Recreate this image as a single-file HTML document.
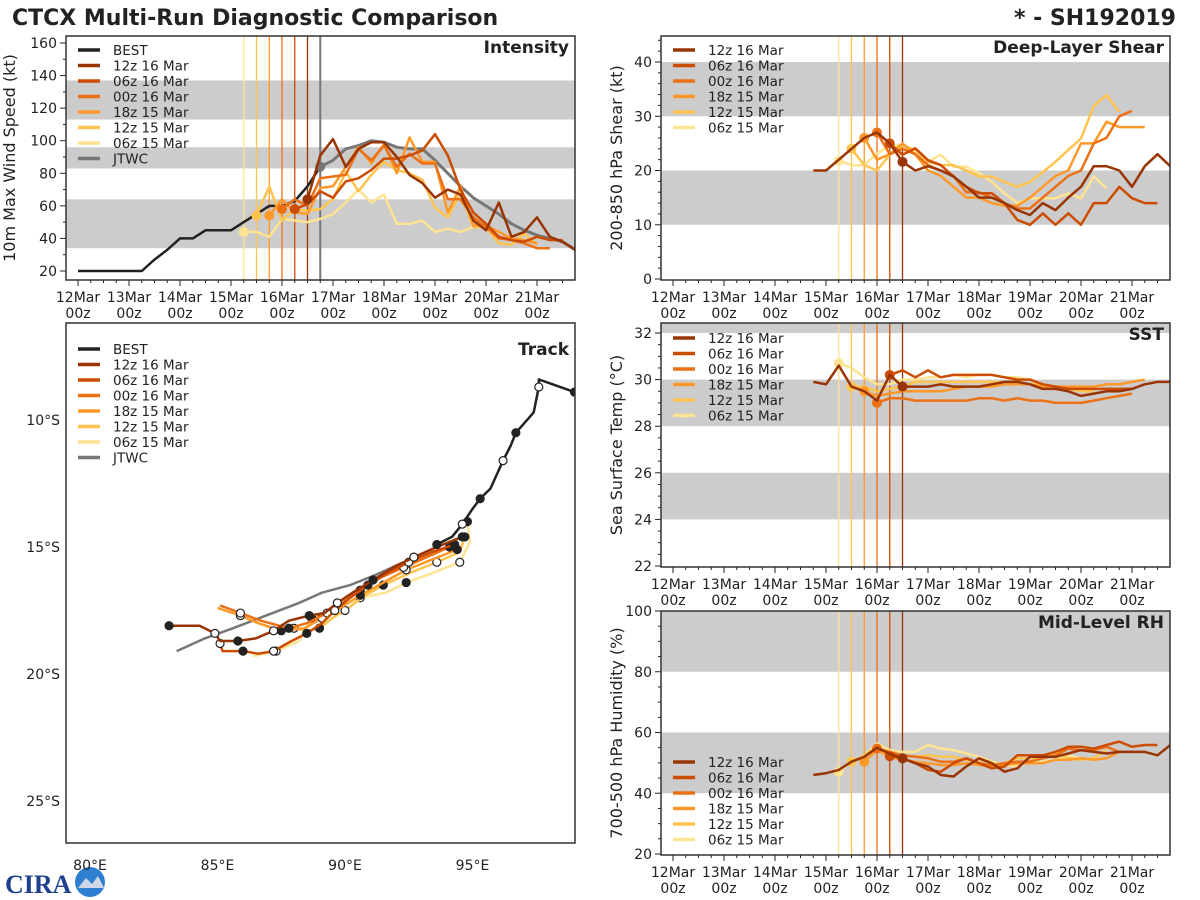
<!DOCTYPE html>
<html><head><meta charset="utf-8">
<style>
html,body{margin:0;padding:0;background:#fff;}
svg{display:block;font-family:"DejaVu Sans","Liberation Sans",sans-serif;}
</style></head>
<body>
<svg id="chart" width="1200" height="900" viewBox="0 0 1200 900" xmlns="http://www.w3.org/2000/svg">
<text x="12" y="25" font-size="22" font-weight="bold" fill="#222">CTCX Multi-Run Diagnostic Comparison</text>
<text x="1176" y="25" font-size="22" font-weight="bold" fill="#222" text-anchor="end">* - SH192019</text>
<g>
<text x="5" y="893" font-size="26" font-weight="bold" fill="#1f3f8f" font-family="Liberation Serif, serif">CIRA</text>
<circle cx="90" cy="882" r="15" fill="#2f7fd0"/>
<path d="M78 888 L86 878 L92 884 L98 876 L104 888 Z" fill="#cfd8e8"/>
</g>
<g id="root"></g>
</svg>
<script>
// ---------- data ----------
const runNames = ["12z 16 Mar","06z 16 Mar","00z 16 Mar","18z 15 Mar","12z 15 Mar","06z 15 Mar"];
const runColors = ["#993404","#cc4c02","#ec7014","#fe9929","#fec44f","#fee391"];
const runStart = [4.5,4.25,4.0,3.75,3.5,3.25]; // days since 12 Mar 00z
const dayLabels = ["12Mar","13Mar","14Mar","15Mar","16Mar","17Mar","18Mar","19Mar","20Mar","21Mar"];

// Intensity (kt)
const bestStart = 0;
const bestInt = [20,20,20,20,20,20,27,33,40,40,45,45,45,50,55,60,60,63,72,84];
const jtwcStart = 4.75;
const jtwcInt = [84,88,95,97,100,99,96,95,95,88,80,72,65,60,55,49,45,42,40,38,33];
const int12z16 = [64,91,101,84,95,99,99,90,79,74,65,70,67,51,45,62,41,44,53,41,38,33];
const int06z16 = [58,61,69,65,75,77,82,89,89,91,94,104,91,70,56,49,41,39,38,41,39,39];
const int00z16 = [58,64,60,77,78,79,95,88,97,84,92,86,86,64,64,53,47,40,39,37,34,34];
const int18z15 = [54,64,56,55,71,72,84,96,86,98,80,102,87,87,56,72,48,48,44,40,39,37];
const int12z15 = [54,72,51,58,57,58,64,81,69,79,87,82,80,76,59,53,68,47,47,37,36,43,36];
const int06z15 = [44,44,41,52,51,50,52,55,62,70,62,67,49,49,51,44,46,44,47,47,43];

// Shear (kt); 12z16 includes history from day 2.75
const shr12z16 = [20,20,22,24,26,27,25,21.6,20,20.8,20,18.9,17,15,15,14,12.7,11.8,14,12.7,15,17,20.8,20.8,20,17,20.8,23,20.8];
const shr06z16 = [25,22.9,24.1,21.9,21,18.9,17,15.8,15.8,14,10.9,10,12.1,10,12.1,10,14,14,17,14.9,14,14];
const shr00z16 = [27,23,24,23,21,20,19,16,16,15,14,13,13,15,17,19,20,25,26,30,31];
const shr18z15 = [26,22,23,25,23,20,19,17,15,15,14,13.5,13.5,15,17,19,20,25,25,29,28,28,28];
const shr12z15 = [24,21,20,22.9,24.6,23.8,21.6,21,21,20,18.9,18.9,17.9,17,17.9,19.7,21.6,23.8,25.9,31.9,33.9,30.8];
const shr06z15 = [21.8,21,21,23.1,24.6,24.6,23.1,21.6,22.9,20.7,20.7,19.5,17.9,15.8,14,14.9,14.9,14.9,15.8,14.9,18.9,16.7];

// SST (C)
const sst12z16 = [29.9,29.8,30.6,29.7,29.5,29.1,30.2,29.7,29.7,29.7,29.8,29.7,29.7,29.7,29.8,29.9,29.9,29.8,29.6,29.6,29.5,29.3,29.4,29.5,29.5,29.6,29.8,29.9,29.9];
const sst06z16 = [30.2,30.4,30.1,30.4,30.1,30.2,30.2,30.2,30.2,30.1,30.0,30.0,29.8,29.7,29.6,29.6,29.6,29.6,29.6,29.6];
const sst00z16 = [29.0,29.2,29.2,29.1,29.1,29.1,29.1,29.1,29.2,29.2,29.1,29.2,29.1,29.1,29.0,29.0,29.0,29.1,29.2,29.3,29.4];
const sst18z15 = [29.5,29.3,29.4,29.5,29.5,29.5,29.5,29.6,29.7,29.7,29.7,29.8,29.8,29.8,29.7,29.7,29.7,29.7,29.7,29.8,29.8,29.9,30.0];
const sst12z15 = [29.7,29.7,29.5,29.6,29.7,29.9,29.9,29.9,29.9,29.9,29.9,29.9,29.9,29.8,29.8,29.8,29.7,29.6,29.5,29.5];
const sst06z15 = [30.7,30.5,30.1,29.8,29.8,30.0,30.0,30.1,30.1,30.2,30.1,30.2,30.2,30.1,30.1,30.0,29.8,29.6,29.7];

// Mid-level RH (%)
const rh12z16 = [46,46.6,47.7,50.4,52,55,53,51.5,49.9,48.8,46,45.5,48.8,51.5,49.9,47.1,48.2,52,52,52,53.1,54.2,53.6,53.1,53.6,53.6,53.6,52.5,55.9];
const rh06z16 = [52.2,51.5,49.9,47.7,47.1,49.9,51.5,49.9,48.2,48.8,52.5,52.5,52.5,53.6,55.3,55.3,54.7,55.9,57,55.3,55.9,55.9];
const rh00z16 = [54.7,53.6,52.5,52,51.5,50.4,50.4,51.5,49.9,49.3,49.9,50.4,50.4,51.5,52.5,54.7,54.2,54.2,55.3,53.6,53.6,53.6];
const rh18z15 = [50.4,54.2,52,51,50.4,49.9,49.3,49.3,49.9,49.3,48.8,49.3,49.9,49.9,49.9,51,51,51.5,51,51.5,53.6];
const rh12z15 = [50.4,52.5,55.3,53.1,52.5,52,52.5,52,52,51,50.4,48.8,49.9,51.5,51.5,51.5,53.6,51.5,51,51.5,54.2];
const rh06z15 = [47.1,50.4,52.5,56.4,54.2,53.6,53.6,55.9,54.7,54.2,53.1,52,50.4,49.3,48.8,50.4,50.4,51,52.5,51.5];

// Track [lon E, lat S]
const trkBest = [[99.0,8.9],[97.6,8.4],[97.6,8.7],[97.4,9.7],[96.7,10.5],[96.5,11.0],[96.2,11.6],[95.7,12.7],[95.3,13.1],[95.0,13.5],[94.6,14.1],[94.2,14.6],[93.6,14.9]];
const trkJtwc = [[92.3,15.6],[91.2,16.1],[90.2,16.5],[89.1,16.8],[88.2,17.2],[86.9,17.7],[85.6,18.2],[84.5,18.6],[83.4,19.1]];
const trk12z16 = [[94.6,14.6],[93.6,15.0],[92.7,15.4],[91.9,15.8],[91.1,16.3],[90.3,16.8],[89.7,17.2],[89.2,17.6],[88.6,17.7],[87.8,17.9],[87.2,18.3],[86.5,18.6],[85.8,18.7],[85.1,18.7],[84.9,18.4],[84.3,18.1],[83.1,18.1]];
const trk06z16 = [[94.3,14.9],[93.4,15.2],[92.5,15.6],[91.7,16.0],[90.9,16.5],[90.2,17.0],[89.6,17.5],[89.1,18.0],[88.5,18.4],[87.9,18.7],[87.2,19.1],[86.6,19.2],[86.0,19.1],[85.2,19.1],[85.1,18.8]];
const trk00z16 = [[94.1,15.0],[93.2,15.4],[92.3,15.8],[91.4,16.2],[90.6,16.7],[89.9,17.2],[89.3,17.6],[88.5,18.0],[87.8,18.2],[86.7,17.9],[85.9,17.6],[85.1,17.3]];
const trk18z15 = [[94.4,15.1],[93.4,15.5],[92.4,15.9],[91.5,16.4],[90.6,16.9],[89.8,17.4],[89.1,17.8],[88.4,18.2],[87.5,18.3],[86.6,18.0],[85.9,17.7],[85.0,17.4]];
const trk12z15 = [[94.7,14.6],[94.5,15.2],[93.6,15.6],[92.6,16.0],[91.5,16.5],[90.8,16.9],[90.0,17.5],[89.5,17.8],[89.0,18.2],[88.5,18.3],[88.0,18.2]];
const trk06z15 = [[94.8,14.0],[94.9,14.8],[94.5,15.6],[93.5,16.0],[92.4,16.4],[91.6,16.8],[90.6,17.0],[89.7,17.4],[88.7,17.8],[88.2,18.7],[87.3,19.1],[86.4,19.3]];

// ---------- helpers ----------
const NS="http://www.w3.org/2000/svg";
const root=document.getElementById('root');
function mk(tag,attrs,parent){const e=document.createElementNS(NS,tag);for(const k in attrs)e.setAttribute(k,attrs[k]);(parent||root).appendChild(e);return e;}
function linMap(v0,p0,v1,p1){return v=>p0+(v-v0)*(p1-p0)/(v1-v0);}

const panels = {
 intensity:{x0:66,x1:575,y0:36,y1:280,xd:linMap(0,78,1,129),yv:linMap(20,271,160,43),ymin:20,ymax:160,major:20,minor:10,bands:[[34,64],[83,96],[113,137]],title:"Intensity",ylab:"10m Max Wind Speed (kt)",ylx:15},
 shear:{x0:661,x1:1170,y0:36,y1:280,xd:linMap(0,673,1,724),yv:linMap(0,279,40,62),ymin:0,ymax:44,major:10,minor:2,bands:[[10,20],[30,40]],title:"Deep-Layer Shear",ylab:"200-850 hPa Shear (kt)",ylx:622},
 sst:{x0:661,x1:1170,y0:323,y1:567,xd:linMap(0,673,1,724),yv:linMap(22,566,32,333),ymin:22,ymax:32.4,major:2,minor:0.5,bands:[[24,26],[28,30],[32,33]],title:"SST",ylab:"Sea Surface Temp (°C)",ylx:622},
 rh:{x0:661,x1:1170,y0:611,y1:855,xd:linMap(0,673,1,724),yv:linMap(20,854,100,611),ymin:20,ymax:100,major:20,minor:5,bands:[[40,60],[80,100]],title:"Mid-Level RH",ylab:"700-500 hPa Humidity (%)",ylx:622}
};

function drawPanel(key,p){
  const g=mk('g',{});
  
  
  const cp=mk('clipPath',{id:'clip-'+key},g);
  mk('rect',{x:p.x0,y:p.y0,width:p.x1-p.x0,height:p.y1-p.y0},cp);
  p.g=g;
  p.plot=mk('g',{'clip-path':'url(#clip-'+key+')'},g);
  p.bands.forEach((b,i)=>{
    const r=mk('rect',{x:p.x0,y:p.yv(b[1]),width:p.x1-p.x0,height:p.yv(b[0])-p.yv(b[1]),fill:'#cccccc'},p.plot);
    
    
  });
  for(let v=p.ymin; v<=p.ymax+1e-6; v+=p.minor){
    const y=p.yv(v); if(y<p.y0-0.5||y>p.y1+0.5) continue;
    const isMaj=Math.abs(v/p.major-Math.round(v/p.major))<1e-6;
    mk('line',{x1:p.x0,x2:p.x0-(isMaj?6:3),y1:y,y2:y,stroke:'#222','stroke-width':1},g);
    if(isMaj){const t=mk('text',{x:p.x0-9,y:y+5,'font-size':14,'text-anchor':'end',fill:'#222'},g);t.textContent=v;
      
      }
  }
  for(let q=0;q<=39;q++){const d=q/4;const x=p.xd(d); if(x>p.x1) break;
    const maj=q%4===0;
    mk('line',{x1:x,x2:x,y1:p.y1,y2:p.y1+(maj?6:3),stroke:'#222','stroke-width':1},g);
    if(maj){const t=mk('text',{x:x,y:p.y1+22,'font-size':14,'text-anchor':'middle',fill:'#222'},g);t.textContent=dayLabels[q/4];
      
      
      const t2=mk('text',{x:x,y:p.y1+38,'font-size':14,'text-anchor':'middle',fill:'#222'},g);t2.textContent='00z';
      
      }
  }
  const yl=mk('text',{x:p.ylx,y:(p.y0+p.y1)/2,'font-size':16,'text-anchor':'middle',fill:'#222',transform:'rotate(-90 '+p.ylx+' '+(p.y0+p.y1)/2+')'},g);
  yl.textContent=p.ylab;
  
  
  runStart.forEach((d,i)=>{
    const l=mk('line',{x1:p.xd(d),x2:p.xd(d),y1:p.y0,y2:p.y1,stroke:runColors[i],'stroke-width':1.3},p.plot);
    
    
  });
}
function series(p,start,vals,color,w,name,dot){
  const pts=vals.map((v,i)=>p.xd(start+i*0.25).toFixed(1)+','+p.yv(v).toFixed(1)).join(' ');
  const l=mk('polyline',{points:pts,fill:'none',stroke:color,'stroke-width':w,'stroke-linejoin':'round'},p.plot);
  
  
  if(dot){const c=mk('circle',{cx:p.xd(dot[0]),cy:p.yv(dot[1]),r:5,fill:color},p.plot);
    
    }
}
function frame(p){const r=mk('rect',{x:p.x0,y:p.y0,width:p.x1-p.x0,height:p.y1-p.y0,fill:'none',stroke:'#333','stroke-width':1.5},p.g);
  
  
  const t=mk('text',{x:p.x1-6,y:p.y0+17,'font-size':17,'font-weight':'bold','text-anchor':'end',fill:'#222'},p.g);t.textContent=p.title;
  
  }
function legend(p,x,y,entries){
  entries.forEach((e,i)=>{const yy=y+i*15.5;
    const l=mk('line',{x1:x,x2:x+22,y1:yy,y2:yy,stroke:e[1],'stroke-width':3.5},p.g);
    
    
    const t=mk('text',{x:x+35,y:yy+5,'font-size':13.5,fill:'#222'},p.g);t.textContent=e[0];
    
    });
}

const PI=panels.intensity; drawPanel('intensity',PI);
const runInt=[int12z16,int06z16,int00z16,int18z15,int12z15,int06z15];
mk('line',{x1:PI.xd(4.75),x2:PI.xd(4.75),y1:PI.y0,y2:PI.y1,stroke:'#777','stroke-width':2},PI.plot);
series(PI,bestStart,bestInt,'#222',2.5,'best-intensity-line');
series(PI,jtwcStart,jtwcInt,'#777',3,'jtwc-intensity-line',[jtwcStart,jtwcInt[0]]);
for(let i=5;i>=0;i--) series(PI,runStart[i],runInt[i],runColors[i],2.5,'intensity-run-'+i,[runStart[i],runInt[i][0]]);
frame(PI);
legend(PI,78,50,[["BEST","#222"]].concat(runNames.map((n,i)=>[n,runColors[i]])).concat([["JTWC","#777"]]));

const PS=panels.shear; drawPanel('shear',PS);
const runShr=[shr12z16,shr06z16,shr00z16,shr18z15,shr12z15,shr06z15];
const shrStart=[2.75,4.25,4.0,3.75,3.5,3.25];
for(let i=5;i>=0;i--) series(PS,shrStart[i],runShr[i],runColors[i],2.5,'shear-run-'+i,[runStart[i],runShr[i][Math.round((runStart[i]-shrStart[i])*4)]]);
frame(PS);
legend(PS,673,50,runNames.map((n,i)=>[n,runColors[i]]));

const PT=panels.sst; drawPanel('sst',PT);
const runSst=[sst12z16,sst06z16,sst00z16,sst18z15,sst12z15,sst06z15];
for(let i=5;i>=0;i--) series(PT,shrStart[i],runSst[i],runColors[i],2.5,'sst-run-'+i,[runStart[i],runSst[i][Math.round((runStart[i]-shrStart[i])*4)]]);
frame(PT);
legend(PT,673,338,runNames.map((n,i)=>[n,runColors[i]]));

const PR=panels.rh; drawPanel('rh',PR);
const runRh=[rh12z16,rh06z16,rh00z16,rh18z15,rh12z15,rh06z15];
for(let i=5;i>=0;i--) series(PR,shrStart[i],runRh[i],runColors[i],2.5,'rh-run-'+i,[runStart[i],runRh[i][Math.round((runStart[i]-shrStart[i])*4)]]);
frame(PR);
legend(PR,673,762,runNames.map((n,i)=>[n,runColors[i]]));

const TK={x0:66,x1:575,y0:323,y1:843};
const lonX=linMap(80,90,85,217.5), latY=linMap(10,420,15,547);
const tg=mk('g',{});


const tcp=mk('clipPath',{id:'clip-track'},tg);
mk('rect',{x:TK.x0,y:TK.y0,width:TK.x1-TK.x0,height:TK.y1-TK.y0},tcp);
const tp=mk('g',{'clip-path':'url(#clip-track)'},tg);
[10,15,20,25].forEach(la=>{const t=mk('text',{x:60,y:latY(la)+5,'font-size':14,'text-anchor':'end',fill:'#222'},tg);t.textContent=la+'°S';
  
  });
[80,85,90,95].forEach(lo=>{const t=mk('text',{x:lonX(lo),y:870,'font-size':14,'text-anchor':'middle',fill:'#222'},tg);t.textContent=lo+'°E';
  
  });
function track(pts,color,w,name,markers){
  const s=pts.map(p=>lonX(p[0]).toFixed(1)+','+latY(p[1]).toFixed(1)).join(' ');
  const l=mk('polyline',{points:s,fill:'none',stroke:color,'stroke-width':w,'stroke-linejoin':'round'},tp);
  
  
  if(markers){pts.forEach((p,i)=>{if(i%2)return;
    const c=mk('circle',{cx:lonX(p[0]),cy:latY(p[1]),r:4,fill:(i/2)%2?'#fff':'#222',stroke:'#222','stroke-width':1.2},tp);
    
    });}
}
track(trkJtwc,'#777',2.5,'jtwc-track',false);
const runTrk=[trk12z16,trk06z16,trk00z16,trk18z15,trk12z15,trk06z15];
for(let i=5;i>=0;i--) track(runTrk[i],runColors[i],2.5,'track-run-'+i,true);
track(trkBest,'#222',2.5,'best-track',true);
const tf=mk('rect',{x:TK.x0,y:TK.y0,width:TK.x1-TK.x0,height:TK.y1-TK.y0,fill:'none',stroke:'#333','stroke-width':1.5},tg);


const tt=mk('text',{x:569,y:355,'font-size':17,'font-weight':'bold','text-anchor':'end',fill:'#222'},tg);tt.textContent='Track';


legend({g:tg},78,349,[["BEST","#222"]].concat(runNames.map((n,i)=>[n,runColors[i]])).concat([["JTWC","#777"]]));
</script>
</body></html>
